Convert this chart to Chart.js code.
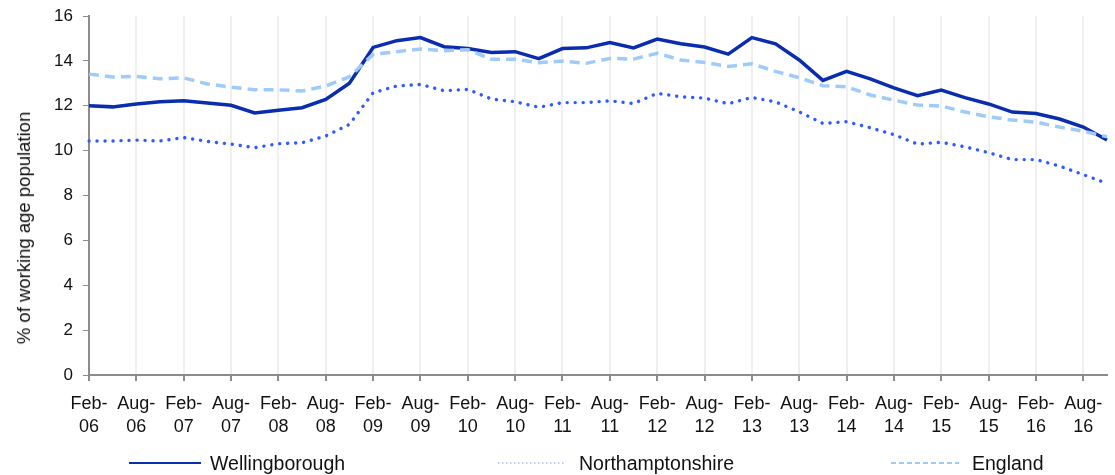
<!DOCTYPE html>
<html>
<head>
<meta charset="utf-8">
<script src="https://cdn.jsdelivr.net/npm/chart.js@4/dist/chart.umd.min.js"></script>
<style>
  body { margin: 0; background: #fff; font-family: "Liberation Sans", Arial, sans-serif; }
  .wrap { position: relative; width: 1115px; height: 475px; }
  .ytitle {
    position: absolute; left: 24px; top: 228px;
    transform: translate(-50%, -50%) rotate(-90deg);
    white-space: nowrap; font-size: 18.5px; color: #111;
  }
  .legend { position: absolute; top: 451px; left: 0; width: 1115px; height: 24px; font-size: 19.5px; color: #111; }
  .legend .item { position: absolute; top: 0; display: flex; align-items: center; height: 24px; }
  .legend svg { margin-right: 9px; }
</style>
</head>
<body>
<div class="wrap">
  <canvas id="chart"></canvas>
  <div class="ytitle">% of working age population</div>
  <div class="legend">
    <div class="item" style="left:129px">
      <svg width="72" height="4"><line x1="0" y1="2" x2="72" y2="2" stroke="#0a2fb0" stroke-width="2"/></svg>Wellingborough
    </div>
    <div class="item" style="left:498px">
      <svg width="72" height="4"><line x1="0" y1="2" x2="68" y2="2" stroke="#2e5bff" stroke-width="1.2" stroke-dasharray="1.5 2.5" opacity="0.6"/></svg>Northamptonshire
    </div>
    <div class="item" style="left:891px">
      <svg width="72" height="4"><line x1="0" y1="2" x2="68" y2="2" stroke="#9fcbfa" stroke-width="2" stroke-dasharray="5 3"/></svg>England
    </div>
  </div>
</div>
<script>
// quarterly, Feb-06 .. Nov-16
const months = ['Feb', 'May', 'Aug', 'Nov'];
const quarters = [];
for (let y = 6; y <= 16; y++) {
  months.forEach(m => quarters.push(m + '-' + String(y).padStart(2, '0')));
}

const wellingborough = [
  12.0, 11.95, 12.08, 12.18, 12.22, 12.12, 12.02, 11.68, 11.8, 11.91,
  12.28, 13.0, 14.6, 14.9, 15.04, 14.63, 14.55, 14.37, 14.41, 14.1,
  14.55, 14.58, 14.82, 14.58, 14.97, 14.76, 14.62, 14.3, 15.04, 14.76,
  14.04, 13.13, 13.53, 13.2, 12.8, 12.45, 12.7, 12.36, 12.08, 11.72,
  11.65, 11.41, 11.05, 10.47
];
const northamptonshire = [
  10.43, 10.43, 10.47, 10.43, 10.58, 10.41, 10.29, 10.13, 10.31, 10.35,
  10.65, 11.17, 12.58, 12.88, 12.95, 12.67, 12.73, 12.3, 12.18, 11.93,
  12.14, 12.14, 12.22, 12.1, 12.55, 12.4, 12.34, 12.09, 12.37, 12.17,
  11.73, 11.21, 11.29, 11.02, 10.71, 10.29, 10.37, 10.17, 9.91, 9.6,
  9.6, 9.31, 8.93, 8.54
];
const england = [
  13.41, 13.28, 13.31, 13.2, 13.24, 12.97, 12.83, 12.71, 12.71, 12.66,
  12.88, 13.29, 14.29, 14.41, 14.53, 14.45, 14.5, 14.07, 14.07, 13.92,
  13.99, 13.89, 14.11, 14.08, 14.34, 14.04, 13.93, 13.75, 13.87, 13.53,
  13.25, 12.89, 12.85, 12.48, 12.25, 12.03, 11.99, 11.72, 11.51, 11.36,
  11.27, 11.05, 10.86, 10.62
];
const yTicks = [0, 2, 4, 6, 8, 10, 12, 14, 16];

const axisGrey = '#8c8c8c';

new Chart(document.getElementById('chart').getContext('2d'), {
  type: 'line',
  data: {
    labels: quarters,
    datasets: [
      {
        label: 'England',
        data: england,
        borderColor: '#9fcbfa',
        borderWidth: 3.5,
        borderDash: [10, 6],
        pointRadius: 0,
        tension: 0
      },
      {
        label: 'Northamptonshire',
        data: northamptonshire,
        borderColor: '#2e5bff',
        borderWidth: 3.4,
        borderDash: [0.1, 7.9],
        borderCapStyle: 'round',
        pointRadius: 0,
        tension: 0
      },
      {
        label: 'Wellingborough',
        data: wellingborough,
        borderColor: '#0a2db0',
        borderWidth: 3.5,
        pointRadius: 0,
        tension: 0
      }
    ]
  },
  options: {
    responsive: true,
    maintainAspectRatio: false,
    animation: false,
    layout: { padding: { top: 16, right: 8, left: 0, bottom: 0 } },
    plugins: {
      legend: { display: false },
      tooltip: { enabled: false }
    },
    scales: {
      x: {
        offset: false,
        border: { color: axisGrey, width: 2 },
        grid: {
          color: '#efefef',
          lineWidth: 2,
          tickColor: axisGrey,
          tickLength: 6
        },
        ticks: {
          autoSkip: false,
          maxRotation: 0,
          padding: 11,
          color: '#111',
          font: { family: 'Liberation Sans', size: 18, lineHeight: 1.3 },
          callback: function(val, idx) {
            if (idx % 2 !== 0) return null;
            const parts = quarters[idx].split('-');
            return [parts[0] + '-', parts[1]];
          }
        },
        afterFit: function(axis) {
          axis.height = 100;
          axis.paddingLeft = 0;
          axis.paddingRight = 0;
        }
      },
      y: {
        min: 0,
        max: 16,
        border: { color: axisGrey, width: 2 },
        grid: {
          drawOnChartArea: false,
          tickColor: axisGrey,
          tickLength: 6
        },
        afterBuildTicks: function(axis) {
          axis.ticks = yTicks.map(v => ({ value: v }));
        },
        ticks: {
          padding: 10,
          color: '#111',
          font: { family: 'Liberation Sans', size: 17 }
        },
        afterFit: function(axis) {
          axis.width = 89;
          axis.paddingTop = 0;
          axis.paddingBottom = 0;
        }
      }
    }
  }
});
</script>
</body>
</html>
